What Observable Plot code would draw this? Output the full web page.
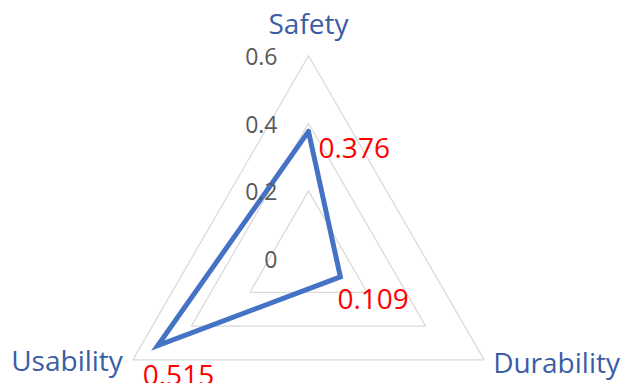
<!DOCTYPE html>
<html>
<head>
<meta charset="utf-8">
<script src="https://cdn.jsdelivr.net/npm/d3@7"></script>
<script src="https://cdn.jsdelivr.net/npm/@observablehq/plot@0.6"></script>
<style>
  html, body { margin: 0; padding: 0; background: #ffffff; }
  svg { display: block; }
</style>
</head>
<body>
<div id="chart"></div>
<script>
// ---- data ----
const categories = ["Safety", "Durability", "Usability"];
const values = [0.376, 0.109, 0.515];
const ticks = [0, 0.2, 0.4, 0.6];
const tickLabels = ["0", "0.2", "0.4", "0.6"];
const rMax = 0.6;

// ---- geometry helpers ----
const W = 626, H = 383;
const cx = 308, cy = 258, pxPerUnit = 338;
const angle = i => Math.PI / 2 - i * 2 * Math.PI / categories.length;
const pt = (i, r) => ({x: r * Math.cos(angle(i)), y: r * Math.sin(angle(i))});

// grid polygons
const grid = [];
ticks.filter(t => t > 0).forEach(t => {
  for (let i = 0; i <= categories.length; i++) {
    const p = pt(i % categories.length, t);
    grid.push({level: t, x: p.x, y: p.y});
  }
});

// series polygon
const series = [];
for (let i = 0; i <= categories.length; i++) {
  const k = i % categories.length;
  const p = pt(k, values[k]);
  series.push({cat: categories[k], value: values[k], x: p.x, y: p.y});
}
const points = series.slice(0, categories.length);

const axisLabels = categories.map((c, i) => ({label: c, ...pt(i, rMax)}));
const tickData = ticks.map((t, i) => ({label: tickLabels[i], x: 0, y: t}));

const labelOffsets = {
  Safety: {dx: 0, dy: -31, anchor: "middle"},
  Durability: {dx: 9, dy: 4, anchor: "start"},
  Usability: {dx: -10, dy: 2, anchor: "end"}
};
const valueOffsets = {
  Safety: {dx: 10, dy: 18},
  Durability: {dx: -3, dy: 23},
  Usability: {dx: -15, dy: 30}
};

const font = "'Open Sans', 'Liberation Sans', sans-serif";

const marks = [
  Plot.line(grid, {x: "x", y: "y", z: "level", stroke: "#d9d9d9", strokeWidth: 1.2}),
  Plot.line(series, {x: "x", y: "y", stroke: "#4472c4", strokeWidth: 5, strokeLinejoin: "miter", strokeMiterlimit: 10}),
  Plot.text(tickData, {x: "x", y: "y", text: "label", textAnchor: "end", dx: -31, dy: 2, fill: "#595959", fontSize: 23, fontFamily: font})
];
categories.forEach(c => {
  const o = labelOffsets[c];
  marks.push(Plot.text(axisLabels.filter(d => d.label === c), {x: "x", y: "y", text: "label", textAnchor: o.anchor, dx: o.dx, dy: o.dy, fill: "#3a5da5", fontSize: 28, fontFamily: font}));
  const v = valueOffsets[c];
  marks.push(Plot.text(points.filter(d => d.cat === c), {x: "x", y: "y", text: d => String(d.value), textAnchor: "start", dx: v.dx, dy: v.dy, fill: "#ff0000", fontSize: 28, fontFamily: font}));
});

const chart = Plot.plot({
  width: W,
  height: H,
  margin: 0,
  x: {domain: [-cx / pxPerUnit, (W - cx) / pxPerUnit], axis: null},
  y: {domain: [-(H - cy) / pxPerUnit, cy / pxPerUnit], axis: null},
  style: {background: "#ffffff", overflow: "visible"},
  marks
});
document.getElementById("chart").appendChild(chart);
</script>
</body>
</html>
